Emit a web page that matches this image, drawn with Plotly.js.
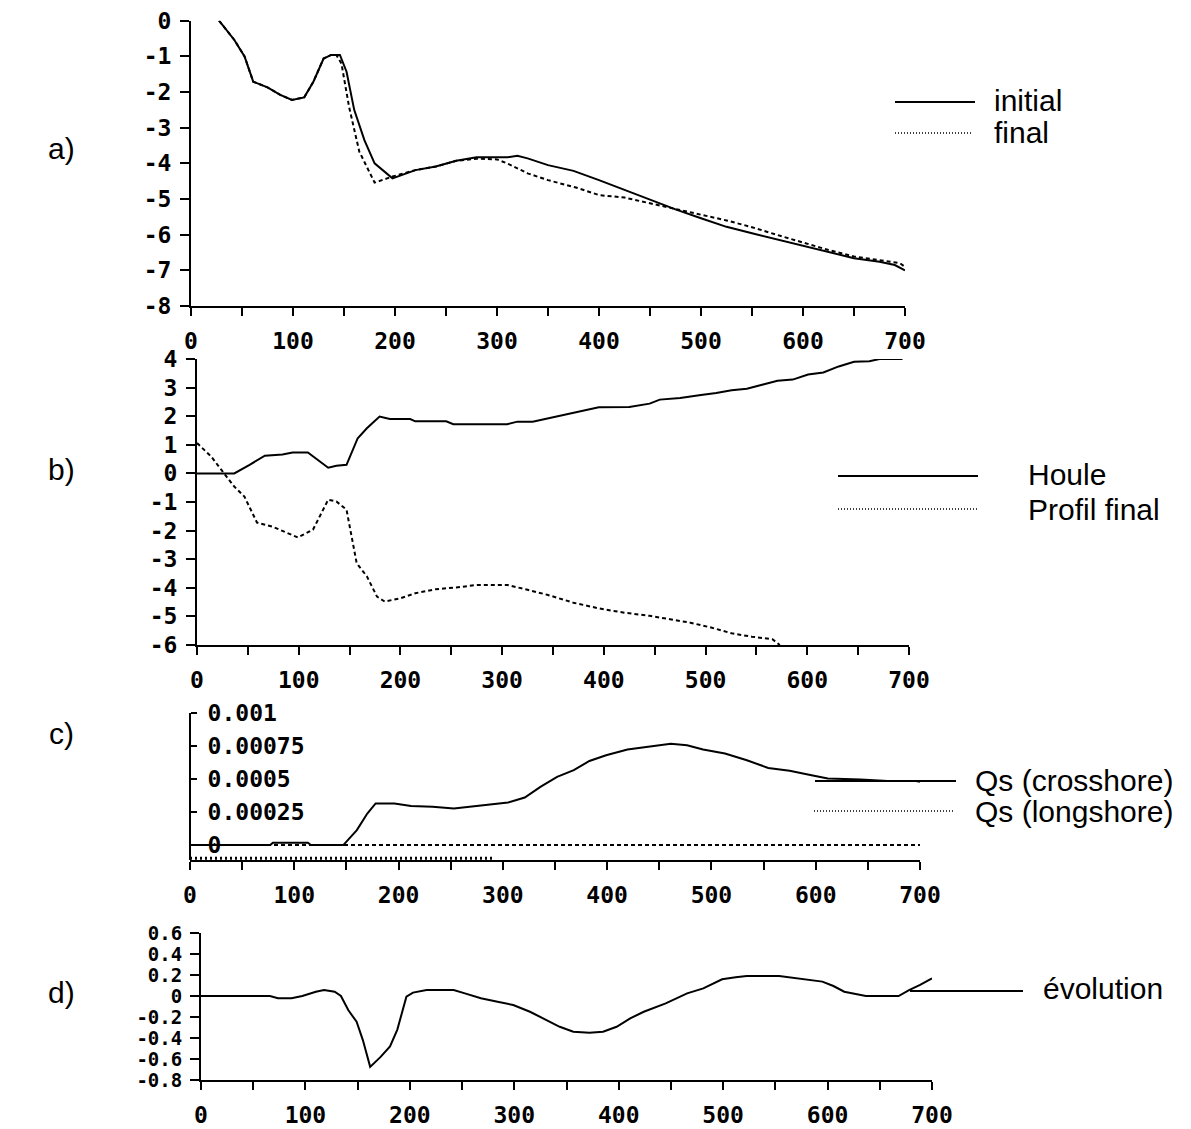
<!DOCTYPE html>
<html>
<head>
<meta charset="utf-8">
<script src="https://cdn.plot.ly/plotly-3.0.1.min.js"></script>
<style>html,body{margin:0;padding:0;background:#fff;}#chart{width:1191px;height:1129px;}</style>
</head>
<body>
<div id="chart"></div>
<script>
// ---------- DATA ----------
// Panel a) profiles
const aInitialX = [27.5, 42.5, 52.5, 61, 75, 87.5, 99, 111, 120, 130, 137.5, 146, 152.5, 160, 170, 180, 197.5, 220, 240, 260, 280, 310, 320, 330, 350, 375, 400, 425, 450, 475, 500, 525, 550, 575, 600, 625, 650, 675, 690, 700];
const aInitialY = [0, -0.54, -1.0, -1.71, -1.87, -2.08, -2.22, -2.15, -1.71, -1.06, -0.96, -0.96, -1.43, -2.5, -3.35, -4.0, -4.42, -4.19, -4.09, -3.93, -3.83, -3.83, -3.79, -3.86, -4.05, -4.21, -4.47, -4.75, -5.03, -5.29, -5.54, -5.78, -5.96, -6.13, -6.32, -6.48, -6.66, -6.76, -6.85, -7.0];
const aFinalX = [27.5, 42.5, 52.5, 61, 75, 87.5, 99, 111, 120, 130, 137.5, 142.5, 147.5, 155, 165, 180, 197.5, 220, 240, 260, 280, 300, 310, 330, 350, 380, 400, 425, 450, 475, 500, 525, 550, 575, 600, 625, 650, 675, 695, 700];
const aFinalY = [0, -0.54, -1.0, -1.71, -1.87, -2.08, -2.22, -2.15, -1.71, -1.06, -0.96, -0.96, -1.2, -2.42, -3.67, -4.54, -4.37, -4.19, -4.09, -3.93, -3.87, -3.89, -4.0, -4.28, -4.47, -4.7, -4.89, -4.96, -5.12, -5.29, -5.44, -5.6, -5.79, -6.01, -6.22, -6.43, -6.61, -6.71, -6.8, -6.9];

// Panel b) wave and final profile
const bHouleX = [0, 36.6, 51.7, 66.7, 84, 94, 109, 119, 129, 137, 147, 158, 167, 179.5, 189.6, 209.6, 214.6, 245, 252, 305, 315, 330, 345, 360, 380, 395, 425, 445, 455, 475, 495.5, 510.5, 525.6, 540.6, 555.6, 570.7, 585.7, 600.8, 615.8, 630.9, 646, 661, 671, 693.6];
const bHouleY = [0, 0, 0.3, 0.62, 0.66, 0.73, 0.73, 0.47, 0.2, 0.27, 0.3, 1.23, 1.58, 1.99, 1.9, 1.9, 1.82, 1.82, 1.72, 1.72, 1.81, 1.81, 1.93, 2.05, 2.19, 2.31, 2.32, 2.44, 2.58, 2.64, 2.74, 2.81, 2.91, 2.96, 3.1, 3.24, 3.28, 3.46, 3.53, 3.74, 3.9, 3.92, 4.0, 4.0];
const bProfilX = [0, 14, 24, 36.6, 46.6, 59, 74, 89, 99, 114, 129, 137, 147, 157, 167, 177, 184.5, 199.6, 214.6, 234.7, 254.8, 274.8, 305, 325, 345, 370, 395, 420, 445, 465, 485, 505.5, 525.6, 545.6, 565.7, 573];
const bProfilY = [1.06, 0.59, 0.12, -0.46, -0.81, -1.72, -1.86, -2.09, -2.24, -1.97, -0.92, -0.98, -1.27, -3.14, -3.6, -4.31, -4.48, -4.37, -4.19, -4.05, -3.99, -3.9, -3.9, -4.07, -4.25, -4.52, -4.72, -4.87, -4.98, -5.1, -5.22, -5.39, -5.59, -5.71, -5.8, -6.0];

// Panel c) sediment transport
const cCrossX = [0, 77, 79.5, 113, 116, 147, 160, 170, 178, 196, 212, 232.6, 253, 269, 290, 305, 321, 336, 352, 368, 383, 399, 419.5, 440, 461, 476.6, 492, 513, 534, 554.5, 575, 596, 611.6, 643, 669, 695, 700];
const cCrossY = [0, 0, 0.000018, 0.000018, 0, 0, 0.000113, 0.000239, 0.000315, 0.000315, 0.000295, 0.00029, 0.000277, 0.00029, 0.00031, 0.000322, 0.00036, 0.00044, 0.000516, 0.000567, 0.000637, 0.00068, 0.000723, 0.000748, 0.000768, 0.000756, 0.000723, 0.000693, 0.000642, 0.000584, 0.000562, 0.000529, 0.000504, 0.000496, 0.000486, 0.000486, 0.000479];
const cLongX = [0, 700];
const cLongY = [0, 0];
const cLowX = [0, 290];
const cLowY = [-0.0001, -0.0001];

// Panel d) evolution
const dEvolX = [0, 66, 73.7, 86.7, 97, 110, 117.8, 128, 134, 141, 149, 155, 162, 172, 181, 188, 196.7, 203, 216, 242, 252.7, 268, 284, 299, 315, 330.6, 343.5, 356.5, 372, 385, 398, 411, 424, 445, 465.5, 481, 499, 512, 522.6, 553.7, 564, 579.7, 595, 605.6, 616, 636.7, 668, 678, 688.6, 700];
const dEvolY = [0, 0, -0.022, -0.022, 0, 0.041, 0.057, 0.041, 0, -0.134, -0.245, -0.42, -0.675, -0.58, -0.48, -0.32, -0.006, 0.032, 0.057, 0.057, 0.025, -0.022, -0.054, -0.086, -0.15, -0.229, -0.293, -0.34, -0.35, -0.34, -0.293, -0.213, -0.15, -0.07, 0.025, 0.073, 0.159, 0.178, 0.19, 0.19, 0.178, 0.159, 0.137, 0.095, 0.041, 0, 0, 0.057, 0.105, 0.169];

// Tick labels
const xTickVals = [0, 100, 200, 300, 400, 500, 600, 700];
const xTickText = ['0', '100', '200', '300', '400', '500', '600', '700'];
const aYTickVals = [0, -1, -2, -3, -4, -5, -6, -7, -8];
const aYTickText = ['0', '-1', '-2', '-3', '-4', '-5', '-6', '-7', '-8'];
const bYTickVals = [4, 3, 2, 1, 0, -1, -2, -3, -4, -5, -6];
const bYTickText = ['4', '3', '2', '1', '0', '-1', '-2', '-3', '-4', '-5', '-6'];
const cYTickVals = [0.001, 0.00075, 0.0005, 0.00025, 0];
const cYTickText = ['0.001', '0.00075', '0.0005', '0.00025', '0'];
const dYTickVals = [0.6, 0.4, 0.2, 0, -0.2, -0.4, -0.6, -0.8];
const dYTickText = ['0.6', '0.4', '0.2', '0', '-0.2', '-0.4', '-0.6', '-0.8'];

// Labels
const panelLabels = ['a)', 'b)', 'c)', 'd)'];
const legendA = ['initial', 'final'];
const legendB = ['Houle', 'Profil final'];
const legendC = ['Qs (crosshore)', 'Qs (longshore)'];
const legendD = ['évolution'];

// ---------- LAYOUT ----------
const W = 1191, H = 1129;
const px = v => v / W;
const py = v => 1 - v / H;

const monoFam = 'DejaVu Sans Mono, Liberation Mono, monospace';
const tickFont = {family: monoFam, size: 23, color: '#000', weight: 'bold'};
const smallTickFont = {family: monoFam, size: 19, color: '#000', weight: 'bold'};
const textFont = {family: 'Liberation Sans, Arial, sans-serif', size: 30, color: '#000'};

function xAxis(x0, x1, anchor) {
  return {
    domain: [px(x0), px(x1)], range: [0, 700], anchor: anchor,
    showline: true, linewidth: 2, linecolor: '#000', mirror: false,
    showgrid: false, zeroline: false,
    tickmode: 'array', tickvals: xTickVals, ticktext: xTickText,
    ticks: 'outside', ticklen: 8, tickwidth: 2, tickcolor: '#000',
    minor: {dtick: 50, tick0: 0, ticks: 'outside', ticklen: 8, tickwidth: 2, tickcolor: '#000', showgrid: false},
    tickfont: tickFont, ticklabelstandoff: 5, fixedrange: true
  };
}
function yAxis(yTop, yBot, range, vals, text, anchor, font) {
  return {
    domain: [py(yBot), py(yTop)], range: range, anchor: anchor,
    showline: true, linewidth: 2, linecolor: '#000',
    showgrid: false, zeroline: false,
    tickmode: 'array', tickvals: vals, ticktext: text,
    ticks: 'outside', ticklen: 9, tickwidth: 2, tickcolor: '#000',
    tickfont: font || tickFont, ticklabelstandoff: 4, fixedrange: true
  };
}

const solid = {color: '#000', width: 2};
const dashed = {color: '#000', width: 2, dash: '4px,3px'};

const traces = [
  {x: aInitialX, y: aInitialY, xaxis: 'x', yaxis: 'y', mode: 'lines', line: solid, name: legendA[0]},
  {x: aFinalX, y: aFinalY, xaxis: 'x', yaxis: 'y', mode: 'lines', line: dashed, name: legendA[1]},
  {x: bHouleX, y: bHouleY, xaxis: 'x2', yaxis: 'y2', mode: 'lines', line: solid, name: legendB[0]},
  {x: bProfilX, y: bProfilY, xaxis: 'x2', yaxis: 'y2', mode: 'lines', line: dashed, name: legendB[1]},
  {x: cLongX, y: cLongY, xaxis: 'x3', yaxis: 'y3', mode: 'lines', line: dashed, name: legendC[1]},
  {x: cLowX, y: cLowY, xaxis: 'x3', yaxis: 'y3', mode: 'lines', line: {color: '#000', width: 3, dash: '2px,3px'}, name: legendC[1] + ' '},
  {x: cCrossX, y: cCrossY, xaxis: 'x3', yaxis: 'y3', mode: 'lines', line: solid, name: legendC[0]},
  {x: dEvolX, y: dEvolY, xaxis: 'x4', yaxis: 'y4', mode: 'lines', line: solid, name: legendD[0]}
];

function legLine(x0, x1, y, dotted) {
  return {type: 'line', xref: 'paper', yref: 'paper', x0: px(x0), x1: px(x1), y0: py(y), y1: py(y),
    line: dotted ? {color: '#000', width: 1.5, dash: '1px,2px'} : {color: '#000', width: 2}};
}
function txt(t, x, y, anchor) {
  return {text: t, xref: 'paper', yref: 'paper', x: px(x), y: py(y), xanchor: anchor || 'left', yanchor: 'middle',
    showarrow: false, font: textFont};
}

// panel c y axis: labels drawn to the right of the axis line
const yaxis3 = yAxis(713, 860, [-0.000113, 0.001], cYTickVals, cYTickText, 'free');
yaxis3.side = 'right';
yaxis3.position = px(190);
yaxis3.ticklen = 6;
yaxis3.ticklabelstandoff = 6;

const layout = {
  width: W, height: H, margin: {l: 0, r: 0, t: 0, b: 0},
  paper_bgcolor: '#fff', plot_bgcolor: 'rgba(0,0,0,0)', showlegend: false,
  xaxis: xAxis(191, 905, 'y'),
  yaxis: yAxis(20.7, 306, [-8, 0], aYTickVals, aYTickText, 'x'),
  xaxis2: xAxis(197, 909, 'y2'),
  yaxis2: yAxis(359, 645, [-6, 4], bYTickVals, bYTickText, 'x2'),
  xaxis3: xAxis(190, 920, 'y3'),
  yaxis3: yaxis3,
  xaxis4: xAxis(201, 932, 'y4'),
  yaxis4: yAxis(933, 1080, [-0.8, 0.6], dYTickVals, dYTickText, 'x4', smallTickFont),
  shapes: [
    legLine(895, 975, 102, false), legLine(895, 973, 133, true),
    legLine(838, 978, 476, false), legLine(838, 978, 509, true),
    legLine(815, 956, 781, false), legLine(814, 953, 811, true),
    legLine(910, 1023, 991, false)
  ],
  annotations: [
    txt(panelLabels[0], 61, 148, 'center'),
    txt(panelLabels[1], 61, 470, 'center'),
    txt(panelLabels[2], 61, 733, 'center'),
    txt(panelLabels[3], 61, 992, 'center'),
    txt(legendA[0], 992, 100), txt(legendA[1], 992, 133),
    txt(legendB[0], 1026, 474), txt(legendB[1], 1026, 509),
    txt(legendC[0], 973, 780), txt(legendC[1], 973, 811),
    txt(legendD[0], 1041, 988)
  ]
};

Plotly.newPlot('chart', traces, layout, {staticPlot: true, displayModeBar: false});
</script>
</body>
</html>
